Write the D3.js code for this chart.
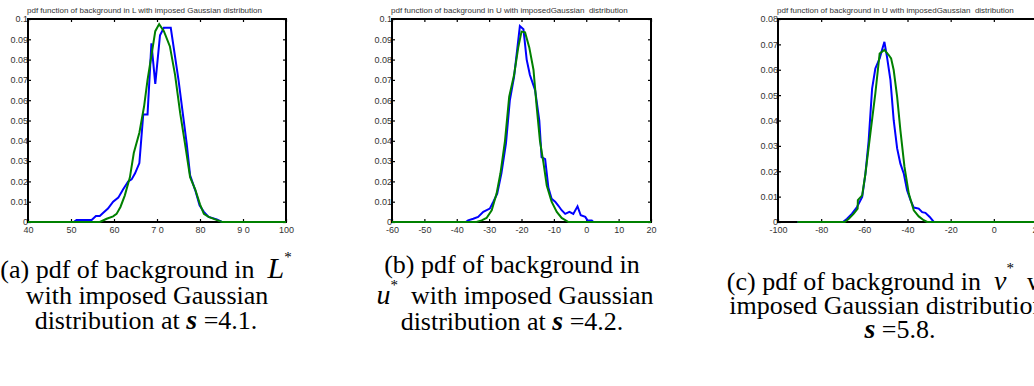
<!DOCTYPE html>
<html>
<head>
<meta charset="utf-8">
<script src="https://cdn.jsdelivr.net/npm/d3@7"></script>
<style>
  body { margin: 0; background: #fff; }
  svg { display: block; }
</style>
</head>
<body>
<svg id="chart" width="1034" height="386"></svg>
<script>
// ---- data ----
// (a) L*
var lTicks = [40, 50, 60, 70, 80, 90, 100];
var lTickLabels = ["40", "50", "60", "7 0", "80", "9 0", "100"];
var lBlue = [[40,0],[50.6,0],[51.3,0.001],[54.8,0.001],[55.8,0.003],[56.7,0.003],[57.5,0.0045],[58.6,0.0066],
  [59.8,0.01],[61,0.012],[62.1,0.016],[63.3,0.02],[64.1,0.021],[64.9,0.024],[65.9,0.029],[66.8,0.053],[67.8,0.053],
  [68.7,0.088],[69.6,0.068],[70.7,0.092],[71.6,0.0957],[73.2,0.0957],[75,0.07],[76,0.0535],[76.9,0.0387],[77.7,0.023],
  [78.9,0.0156],[79.9,0.0082],[80.9,0.005],[82,0.0025],[83.9,0.0013],[85.1,0],[100,0]];
var lGreen = [[40,0],[56.7,0],[58.3,0.0016],[59.8,0.0028],[60.6,0.004],[61.5,0.0074],[62.5,0.013],[63.7,0.022],
  [64.6,0.034],[65.9,0.044],[67,0.057],[67.8,0.07],[68.7,0.082],[69.6,0.094],[70.5,0.0975],[71.6,0.094],[73,0.0865],
  [74.2,0.0725],[75.4,0.0535],[76.5,0.0387],[77.7,0.022],[78.9,0.016],[80,0.0087],[80.9,0.004],[82,0.0025],
  [83.5,0.0013],[85.1,0],[100,0]];

// (b) u*
var uTicks = [-60, -50, -40, -30, -20, -10, 0, 10, 20];
var uTickLabels = ["-60", "-50", "-40", "-30", "-20", "-10", "0", "10", "20"];
var uBlue = [[-60,0],[-37.2,0],[-36.5,0.0008],[-34.9,0.0016],[-33.4,0.0025],[-31.8,0.005],[-29.8,0.0066],[-28.7,0.01],
  [-27.5,0.014],[-26.2,0.024],[-24.8,0.0387],[-23.6,0.06],[-22.3,0.0715],[-20.5,0.0965],[-19.4,0.095],[-18.4,0.08],
  [-17.4,0.0724],[-15.8,0.065],[-14.5,0.05],[-13.8,0.032],[-12.7,0.031],[-11.7,0.017],[-10.7,0.0115],[-9.6,0.01],
  [-8.6,0.008],[-7.6,0.0058],[-6.5,0.004],[-5.2,0.005],[-4,0.004],[-2.7,0.0077],[-1.7,0.0033],[-0.3,0.0025],
  [0.4,0.0008],[1.7,0.0008],[2.2,0],[20,0]];
var uGreen = [[-60,0],[-33.9,0],[-32.3,0.0008],[-30.8,0.002],[-29.2,0.0058],[-27.7,0.014],[-26.5,0.024],[-25.1,0.04],
  [-23.8,0.0617],[-22.3,0.0724],[-21,0.086],[-20,0.0938],[-18.9,0.0934],[-17.6,0.086],[-16.3,0.075],[-15.3,0.0566],
  [-14.3,0.04],[-13.2,0.029],[-12.2,0.018],[-10.7,0.01],[-9.1,0.005],[-7.6,0.002],[-5.5,0],[20,0]];

// (c) v*
var vTicks = [-100, -80, -60, -40, -20, 0, 20];
var vTickLabels = ["-100", "-80", "-60", "-40", "-20", "0", "20"];
var vBlue = [[-91,0],[-69.9,0],[-68,0.0013],[-65.7,0.0033],[-63.4,0.0059],[-61,0.0099],[-59.5,0.019],[-58,0.032],
  [-56.4,0.0526],[-54.9,0.0605],[-52.9,0.0645],[-51.8,0.0678],[-50.7,0.071],[-49.5,0.0651],[-47.9,0.0559],
  [-46.4,0.0401],[-44.8,0.029],[-43.3,0.023],[-41.7,0.019],[-40.2,0.0125],[-38.6,0.0086],[-37.1,0.0057],
  [-34.8,0.0053],[-33.2,0.0039],[-31.7,0.0036],[-29.7,0.002],[-27.8,0],[20,0]];
var vGreen = [[-91,0],[-69.1,0],[-67.2,0.0013],[-64.9,0.0033],[-63.1,0.0053],[-63,0.0086],[-61,0.0105],[-59.5,0.019],
  [-57.2,0.0349],[-54.9,0.0507],[-52.9,0.0664],[-50.7,0.0678],[-48.7,0.0658],[-47.6,0.0645],[-46.4,0.0599],
  [-44.8,0.0493],[-43.3,0.0362],[-41.4,0.0217],[-39.4,0.0112],[-37.1,0.0046],[-34.8,0.0022],[-32.5,0.0007],
  [-30.9,0],[20,0]];

var yTicks10 = [0, 0.01, 0.02, 0.03, 0.04, 0.05, 0.06, 0.07, 0.08, 0.09, 0.1];
var yTicks8 = [0, 0.01, 0.02, 0.03, 0.04, 0.05, 0.06, 0.07, 0.08];

var titles = ["pdf function of background in L with imposed Gaussian distribution",
  "pdf function of background in U with imposedGaussian  distribution",
  "pdf function of background in U with imposedGaussian  distribution"];

var svg = d3.select("#chart");
var sans = "'Liberation Sans', Arial, sans-serif";

var panels = [
  { left: 28, right: 286, xDomain: [40, 100], yMax: 0.1, xt: lTicks, xl: lTickLabels, yt: yTicks10, blue: lBlue, green: lGreen, title: titles[0] },
  { left: 392, right: 651, xDomain: [-60, 20], yMax: 0.1, xt: uTicks, xl: uTickLabels, yt: yTicks10, blue: uBlue, green: uGreen, title: titles[1] },
  { left: 778, right: 1037, xDomain: [-100, 20], yMax: 0.08, xt: vTicks, xl: vTickLabels, yt: yTicks8, blue: vBlue, green: vGreen, title: titles[2] }
];
var plotTop = 19, plotBottom = 222;

panels.forEach(function(p) {
  var x = d3.scaleLinear().domain(p.xDomain).range([p.left, p.right]);
  var y = d3.scaleLinear().domain([0, p.yMax]).range([plotBottom, plotTop]);
  var g = svg.append("g");

  g.append("text")
    .attr("x", p.left - 1).attr("y", 12.5)
    .attr("font-family", sans).attr("font-size", 8).attr("fill", "#333")
    .style("white-space", "pre")
    .text(p.title);

  var fmtY = function(d) { return d === 0 ? "0" : d3.format(".2~f")(d); };

  var ax = [
    g.append("g").attr("transform", "translate(0," + plotBottom + ")")
      .call(d3.axisBottom(x).tickValues(p.xt).tickFormat(function(d, i) { return p.xl[i]; }).tickSizeInner(-3).tickSizeOuter(0).tickPadding(5)),
    g.append("g").attr("transform", "translate(0," + plotTop + ")")
      .call(d3.axisTop(x).tickValues(p.xt).tickFormat("").tickSizeInner(-3).tickSizeOuter(0)),
    g.append("g").attr("transform", "translate(" + p.left + ",0)")
      .call(d3.axisLeft(y).tickValues(p.yt).tickFormat(fmtY).tickSizeInner(-3).tickSizeOuter(0).tickPadding(0)),
    g.append("g").attr("transform", "translate(" + p.right + ",0)")
      .call(d3.axisRight(y).tickValues(p.yt).tickFormat("").tickSizeInner(-3).tickSizeOuter(0))
  ];
  ax.forEach(function(a) {
    a.select(".domain").remove();
    a.selectAll(".tick line").attr("stroke", "#000").attr("stroke-width", 1.2);
    a.selectAll(".tick text").attr("font-family", sans).attr("font-size", 9).attr("fill", "#333").style("white-space", "pre");
  });

  var line = d3.line().x(function(d) { return x(d[0]); }).y(function(d) { return y(d[1]); });

  g.append("rect")
    .attr("x", p.left).attr("y", plotTop)
    .attr("width", p.right - p.left).attr("height", plotBottom - plotTop)
    .attr("fill", "none").attr("stroke", "#000").attr("stroke-width", 2);

  g.append("path").datum(p.blue).attr("d", line)
    .attr("fill", "none").attr("stroke", "#0000ff").attr("stroke-width", 2);
  g.append("path").datum(p.green).attr("d", line)
    .attr("fill", "none").attr("stroke", "#008000").attr("stroke-width", 2);
});

// ---- captions ----
var serif = "'Liberation Serif', 'Times New Roman', serif";
function caption(cx, yy, parts) {
  var t = svg.append("text")
    .attr("x", cx).attr("y", yy)
    .attr("text-anchor", "middle")
    .attr("font-family", serif).attr("font-size", 26).attr("fill", "#000")
    .style("white-space", "pre");
  parts.forEach(function(s) {
    var ts = t.append("tspan").text(s.t);
    if (s.i) ts.attr("font-style", "italic");
    if (s.b) ts.attr("font-weight", "bold");
    if (s.sz) ts.attr("font-size", s.sz);
    if (s.dy) ts.attr("dy", s.dy);
  });
}

caption(146, 278, [{t: "(a) pdf of background in  "}, {t: "L", i: 1, sz: 30}, {t: "*", sz: 15, dy: -16}, {t: "", dy: 16}]);
caption(147, 304, [{t: "with imposed Gaussian"}]);
caption(146, 329, [{t: "distribution at "}, {t: "s", i: 1, b: 1, sz: 28}, {t: " =4.1."}]);

caption(512, 273, [{t: "(b) pdf of background in"}]);
caption(515, 304, [{t: "u", i: 1, sz: 28}, {t: "*", sz: 15, dy: -14}, {t: "  with imposed Gaussian", dy: 14}]);
caption(512, 330, [{t: "distribution at "}, {t: "s", i: 1, b: 1, sz: 28}, {t: " =4.2."}]);

caption(900, 290, [{t: "(c) pdf of background in  "}, {t: "v", i: 1, sz: 28}, {t: "*", sz: 15, dy: -17}, {t: "  with", dy: 17}]);
caption(900, 314, [{t: "imposed Gaussian distribution at"}]);
caption(900, 338, [{t: "s", i: 1, b: 1, sz: 28}, {t: " =5.8."}]);
</script>
</body>
</html>
